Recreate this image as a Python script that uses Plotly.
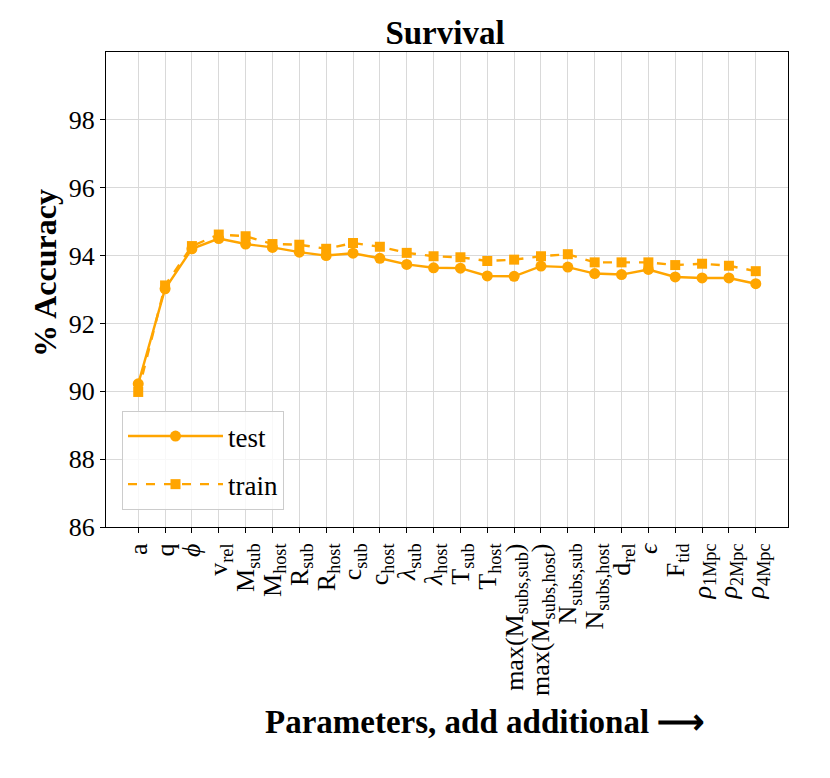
import plotly.graph_objects as go

params = ["a", "q", "<i>ϕ</i>", "v<sub>rel</sub>", "M<sub>sub</sub>", "M<sub>host</sub>",
          "R<sub>sub</sub>", "R<sub>host</sub>", "c<sub>sub</sub>", "c<sub>host</sub>",
          "<i>λ</i><sub>sub</sub>", "<i>λ</i><sub>host</sub>", "T<sub>sub</sub>", "T<sub>host</sub>",
          "max(M<sub>subs,sub</sub>)", "max(M<sub>subs,host</sub>)", "N<sub>subs,sub</sub>",
          "N<sub>subs,host</sub>", "d<sub>rel</sub>", "<i>ϵ</i>", "F<sub>tid</sub>",
          "<i>ρ</i><sub>1Mpc</sub>", "<i>ρ</i><sub>2Mpc</sub>", "<i>ρ</i><sub>4Mpc</sub>"]
test_acc = [90.22, 93.02, 94.2, 94.5, 94.34, 94.24, 94.1, 94.0, 94.07, 93.92, 93.74, 93.64,
            93.63, 93.4, 93.39, 93.69, 93.66, 93.47, 93.44, 93.59, 93.37, 93.34, 93.34, 93.17]
train_acc = [89.98, 93.12, 94.28, 94.62, 94.57, 94.34, 94.32, 94.2, 94.37, 94.26, 94.08, 93.98,
             93.95, 93.84, 93.88, 93.98, 94.04, 93.8, 93.8, 93.8, 93.72, 93.76, 93.7, 93.54]
y_ticks = [86, 88, 90, 92, 94, 96, 98]

x = list(range(len(params)))
orange = "#FFA500"
font_family = "Liberation Serif"

# page has an 8px body margin; figure coordinates are offset accordingly
W, H = 822, 770
L, R, T, B = 98, 42, 44, 251
pw, ph = W - L - R, H - T - B

fig = go.Figure()
fig.add_trace(go.Scatter(x=x, y=test_acc, name="test", mode="lines+markers", legendgroup="g1",
                         line=dict(color=orange, width=2.4),
                         marker=dict(symbol="circle", size=11, color=orange)))
fig.add_trace(go.Scatter(x=x, y=train_acc, name="train", mode="lines+markers", legendgroup="g2",
                         line=dict(color=orange, width=2.4, dash="dash"),
                         marker=dict(symbol="square", size=10, color=orange)))

fig.update_layout(
    width=W, height=H,
    paper_bgcolor="white", plot_bgcolor="white",
    margin=dict(l=L, r=R, t=T, b=B, autoexpand=False),
    font=dict(family=font_family, size=24, color="black"),
    title=dict(text="<b>Survival</b>", x=437 / W, xanchor="center",
               y=1 - 24 / H, yanchor="middle", font=dict(size=33)),
    showlegend=True,
    legend=dict(x=(114 - L) / pw, y=17 / ph, xanchor="left", yanchor="bottom",
                bgcolor="rgba(255,255,255,0.8)", bordercolor="#cccccc", borderwidth=1,
                font=dict(size=27), itemwidth=95, tracegroupgap=10),
)
fig.update_xaxes(range=[-1.2, len(params) - 1 + 1.2], tickmode="array", tickvals=x, ticktext=params,
                 tickangle=-90, showgrid=True, gridcolor="#d9d9d9", gridwidth=1,
                 showline=True, linecolor="black", linewidth=1.2, mirror=True,
                 ticks="outside", ticklen=5, tickcolor="black", zeroline=False,
                 tickfont=dict(size=26), automargin=False)
fig.update_yaxes(range=[86, 100], tickmode="array", tickvals=y_ticks,
                 showgrid=True, gridcolor="#d9d9d9", gridwidth=1,
                 showline=True, linecolor="black", linewidth=1.2, mirror=True,
                 ticks="outside", ticklen=5, tickcolor="black", zeroline=False,
                 tickfont=dict(size=26), automargin=False)
fig.add_annotation(text="<b>% Accuracy</b>", xref="paper", yref="paper",
                   x=(37 - L) / pw, y=(T + ph - 265) / ph, xanchor="center", yanchor="middle",
                   textangle=-90, showarrow=False, font=dict(size=32))
fig.add_annotation(text="<b>Parameters, add additional ⟶</b>", xref="paper", yref="paper",
                   x=(477 - L) / pw, y=-(714 - (T + ph)) / ph, xanchor="center",
                   yanchor="middle", showarrow=False, font=dict(size=33))

fig.write_html("out.html")
